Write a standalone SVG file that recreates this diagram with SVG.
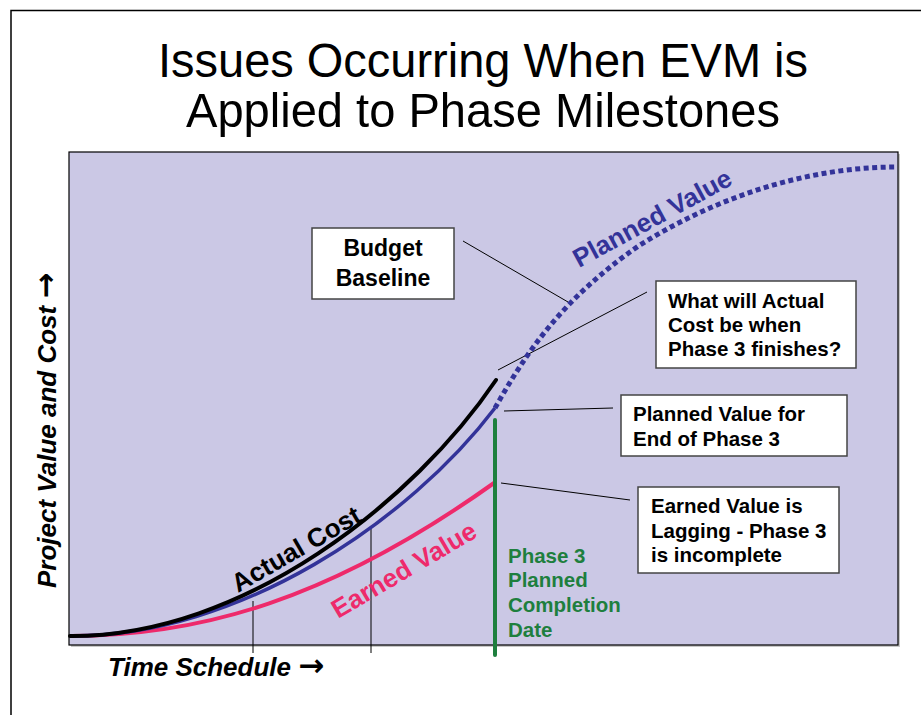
<svg xmlns="http://www.w3.org/2000/svg" width="921" height="715" viewBox="0 0 921 715">
<style>
.title{font-family:"Liberation Sans",Arial,sans-serif;font-size:49px;fill:#000;text-anchor:middle}
.box rect{fill:#fff;stroke:#444;stroke-width:1.5}
.box text{font-family:"Liberation Sans",Arial,sans-serif;font-weight:bold;font-size:20.5px;fill:#000}
.box text.big{font-size:23px}
.axis{font-family:"Liberation Sans",Arial,sans-serif;font-weight:bold;font-style:italic;font-size:26px;fill:#000}
.arrow{font-family:"DejaVu Sans",sans-serif;font-style:normal;font-weight:bold;font-size:31px}
.clabel{font-family:"Liberation Sans",Arial,sans-serif;font-weight:bold;font-size:26px}
.green{font-family:"Liberation Sans",Arial,sans-serif;font-weight:bold;font-size:20.5px;fill:#1E7F3E}
.leader{stroke:#000;stroke-width:1;fill:none}
</style>
<rect x="0" y="0" width="921" height="715" fill="#fff"/>
<path d="M11,715 V10.5 H921" fill="none" stroke="#000" stroke-width="1.5"/>
<g id="title">
<text class="title" x="483" y="77" textLength="650" lengthAdjust="spacingAndGlyphs">Issues Occurring When EVM is</text>
<text class="title" x="483" y="127" textLength="594" lengthAdjust="spacingAndGlyphs">Applied to Phase Milestones</text>
</g>
<g id="plot">
<rect x="71" y="154" width="829" height="493" fill="#c8c8c8"/>
<rect x="69" y="152" width="829" height="493" fill="#CBC8E5" stroke="#000" stroke-width="1.2"/>
</g>
<g id="connectors">
<line class="leader" x1="253" y1="601" x2="253" y2="653"/>
<line class="leader" x1="371" y1="528" x2="371" y2="653"/>
<line class="leader" x1="463" y1="241" x2="568" y2="302"/>
<line class="leader" x1="647" y1="292" x2="498" y2="370"/>
<line class="leader" x1="504" y1="411" x2="613" y2="408"/>
<line class="leader" x1="501" y1="483" x2="630" y2="500"/>
</g>
<g id="curves">
<path id="earned" d="M70,636 C200,636 330,600 494,483" fill="none" stroke="#EE2A6B" stroke-width="4"/>
<path id="planned" d="M70,636 C240,637 410,520 495,408" fill="none" stroke="#333399" stroke-width="3.5"/>
<path id="planned-future" d="M495,408 C525,355 560,300 640,245 C720,195 810,167 897,167" fill="none" stroke="#333399" stroke-width="5" stroke-dasharray="5 3.5"/>
<path id="actual" d="M70,636 C245,637 415,500 496,380" fill="none" stroke="#000" stroke-width="4" stroke-linecap="round"/>
<line id="phase3" x1="495" y1="420" x2="495" y2="655" stroke="#1E7F3E" stroke-width="4" stroke-linecap="round"/>
</g>
<g id="curve-labels">
<text class="clabel" fill="#333399" transform="translate(579,268) rotate(-28.5)">Planned Value</text>
<text class="clabel" fill="#000" transform="translate(238,593) rotate(-30)">Actual Cost</text>
<text class="clabel" fill="#EE2A6B" transform="translate(338,619) rotate(-30.5)">Earned Value</text>
</g>
<g id="budget-baseline" class="box">
<rect x="312" y="228" width="142" height="71"/>
<text class="big" x="383" y="256" text-anchor="middle">Budget</text>
<text class="big" x="383" y="286" text-anchor="middle">Baseline</text>
</g>
<g id="actual-cost-question" class="box">
<rect x="656" y="281" width="200" height="87"/>
<text x="668" y="308">What will Actual</text>
<text x="668" y="332">Cost be when</text>
<text x="668" y="356">Phase 3 finishes?</text>
</g>
<g id="planned-value-end" class="box">
<rect x="621" y="395" width="226" height="61"/>
<text x="633" y="421">Planned Value for</text>
<text x="633" y="446">End of Phase 3</text>
</g>
<g id="earned-value-lagging" class="box">
<rect x="638" y="487" width="201" height="86"/>
<text x="651" y="513">Earned Value is</text>
<text x="651" y="538">Lagging - Phase 3</text>
<text x="651" y="562">is incomplete</text>
</g>
<g id="phase3-label">
<text class="green" x="508" y="563">Phase 3</text>
<text class="green" x="508" y="587">Planned</text>
<text class="green" x="508" y="612">Completion</text>
<text class="green" x="508" y="637">Date</text>
</g>
<g id="axes-labels">
<text class="axis" x="108" y="676">Time Schedule <tspan class="arrow">→</tspan></text>
<text class="axis" transform="translate(56,588) rotate(-90)">Project Value and Cost <tspan class="arrow">→</tspan></text>
</g>
</svg>
